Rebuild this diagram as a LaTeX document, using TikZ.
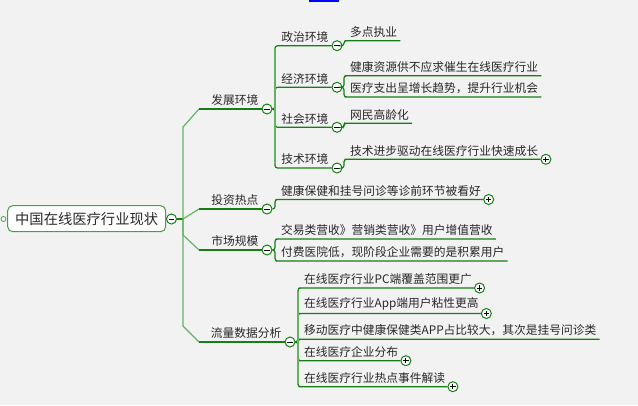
\documentclass[tikz,border=0pt]{standalone}
\usepackage{fontspec}
\setmainfont{Noto Sans CJK SC}
\usetikzlibrary{positioning}
\definecolor{linkgreen}{RGB}{20,128,20}
\definecolor{bargreen}{RGB}{100,178,100}
\definecolor{boxgreen}{RGB}{70,160,70}
\definecolor{inkgray}{RGB}{40,40,40}
\definecolor{paper}{RGB}{242,242,242}
\tikzset{
  root/.style={
    rectangle, rounded corners=5pt, draw=boxgreen, line width=1pt,
    fill=white, minimum width=158pt, minimum height=26pt,
    inner sep=0pt, text=inkgray, font=\fontsize{14.3}{17}\selectfont
  },
  topic/.style={
    inner xsep=3pt, inner ysep=3pt, text=inkgray,
    font=\fontsize{11.75}{14}\selectfont
  },
  leaf/.style={topic, anchor=south west},
  branch/.style={topic, anchor=south east},
  link/.style={draw=linkgreen, line width=1.2pt, rounded corners=2.5pt},
  bar/.style={draw=bargreen, line width=1.2pt},
  toggle/.style={
    circle, draw=linkgreen, line width=1pt, fill=white,
    minimum size=10pt, inner sep=0pt
  },
  minus/.style={toggle, path picture={
    \draw[black, line width=1pt]
      ([xshift=-2.6pt]path picture bounding box.center) --
      ([xshift=2.6pt]path picture bounding box.center);}},
  plus/.style={toggle, path picture={
    \draw[black, line width=1pt]
      ([xshift=-2.6pt]path picture bounding box.center) --
      ([xshift=2.6pt]path picture bounding box.center)
      ([yshift=-2.6pt]path picture bounding box.center) --
      ([yshift=2.6pt]path picture bounding box.center);}},
  dot/.style={circle, draw=boxgreen, line width=0.8pt, fill=white,
    minimum size=5pt, inner sep=0pt}
}

\begin{document}
\begin{tikzpicture}[x=1pt, y=-1pt]

\fill[paper] (0,0) rectangle (638,405);
\useasboundingbox (0,0) rectangle (638,405);
\fill[blue] (309,0) rectangle (339,1.8);

% Root
\node[root] (root) at (86.7,218.7) {中国在线医疗行业现状};
\node[dot] (rdot) at (3.5,219) {};
\node[minus] (rtog) at (171.5,219) {};
\coordinate (hub) at (183,219);
\draw[link, line width=2pt] (rtog) -- (hub);

% First level toggles and labels
\node[minus] (c1) at (267,109) {};
\node[minus] (c2) at (267,209) {};
\node[minus] (c3) at (267,250) {};
\node[minus] (c4) at (290,342) {};
\node[branch] (b1) at (c1.west) {发展环境};
\node[branch] (b2) at (c2.west) {投资热点};
\node[branch] (b3) at (c3.west) {市场规模};
\node[branch] (b4) at (c4.west) {流量数据分析};

\draw[bar] (hub) -- (183,127) -- (199,109) coordinate (k1);
\draw[bar] (hub) -- (199,209) coordinate (k2);
\draw[bar] (hub) -- (183,235) -- (199,250) coordinate (k3);
\draw[bar] (hub) -- (183,326) -- (199,342) coordinate (k4);
\draw[link] (k1) -- (c1);
\draw[link] (k2) -- (c2);
\draw[link] (k3) -- (c3);
\draw[link] (k4) -- (c4);

% Development environment
\node[minus] (c11) at (337,45.7) {};
\node[minus] (c12) at (337,87.3) {};
\node[minus] (c13) at (337,127.3) {};
\node[minus] (c14) at (337,168) {};
\node[branch] (b11) at (c11.west) {政治环境};
\node[branch] (b12) at (c12.west) {经济环境};
\node[branch] (b13) at (c13.west) {社会环境};
\node[branch] (b14) at (c14.west) {技术环境};
\draw[link] (c1) -- (275,109) |- (c11);
\draw[link] (c1) -- (275,109) |- (c12);
\draw[link] (c1) -- (275,109) |- (c13);
\draw[link] (c1) -- (275,109) |- (c14);
\draw[bar] (275,48.7) -- (275,165);

\node[leaf] (l111) at (347,40.7) {多点执业};
\node[leaf] (l121) at (347,75.7) {健康资源供不应求催生在线医疗行业};
\node[leaf] (l122) at (347,97) {医疗支出呈增长趋势，提升行业机会};
\node[leaf] (l131) at (347,123.3) {网民高龄化};
\node[leaf] (l141) at (347,159.3) {技术进步驱动在线医疗行业快速成长};
\node[plus, right=-1pt of l141.south east] (p141) {};
\draw[link] (c11) -- (344,45.7) |- (l111.south west) -- (l111.south east);
\draw[link] (c12) -- (344,87.3) |- (l121.south west) -- (l121.south east);
\draw[link] (c12) -- (344,87.3) |- (l122.south west) -- (l122.south east);
\draw[link] (c13) -- (344,127.3) |- (l131.south west) -- (l131.south east);
\draw[link] (c14) -- (344,168) |- (l141.south west) -- (p141);

% Investment
\node[leaf] (l21) at (278,199.5) {健康保健和挂号问诊等诊前环节被看好};
\node[plus, right=-1pt of l21.south east] (p21) {};
\draw[link] (c2) -- (275,209) |- (l21.south west) -- (p21);

% Market size
\node[leaf] (l31) at (278,239) {交易类营收》营销类营收》用户增值营收};
\node[leaf] (l32) at (278,261) {付费医院低，现阶段企业需要的是积累用户};
\draw[link] (c3) -- (275,250) |- (l31.south west) -- (l31.south east);
\draw[link] (c3) -- (275,250) |- (l32.south west) -- (l32.south east);

% Traffic data
\node[leaf] (l41) at (301,288) {在线医疗行业PC端覆盖范围更广};
\node[leaf] (l42) at (301,313.5) {在线医疗行业App端用户粘性更高};
\node[leaf] (l43) at (301,339.3) {移动医疗中健康保健类APP占比较大，其次是挂号问诊类};
\node[leaf] (l44) at (301,360.7) {在线医疗企业分布};
\node[leaf] (l45) at (301,386.7) {在线医疗行业热点事件解读};
\node[plus, right=-1pt of l41.south east] (p41) {};
\node[plus, right=-1pt of l42.south east] (p42) {};
\node[plus, right=-1pt of l44.south east] (p44) {};
\node[plus, right=-1pt of l45.south east] (p45) {};
\draw[link] (c4) -- (298,342) |- (l41.south west) -- (p41);
\draw[link] (c4) -- (298,342) |- (l42.south west) -- (p42);
\draw[link] (c4) -- (298,342) |- (l43.south west) -- (l43.south east);
\draw[link] (c4) -- (298,342) |- (l44.south west) -- (p44);
\draw[link] (c4) -- (298,342) |- (l45.south west) -- (p45);
\draw[bar] (298,291) -- (298,383.7);

\end{tikzpicture}
\end{document}
